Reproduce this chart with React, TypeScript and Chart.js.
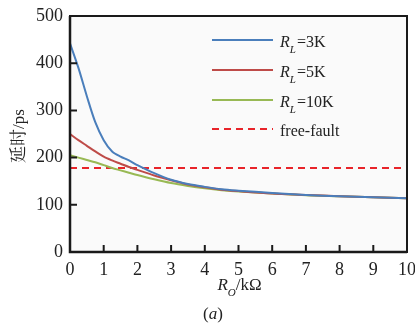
import React, { useEffect, useRef } from "react";
import { Chart, registerables } from "chart.js";

Chart.register(...registerables);

const xValues = [0, 0.25, 0.5, 0.75, 1, 1.25, 1.5, 1.75, 2, 2.5, 3, 3.5, 4, 4.5, 5, 6, 7, 8, 9, 10];
const rl3k = [442, 390, 330, 275, 237, 213, 202, 194, 184, 167, 153, 144, 138, 133, 130, 125, 121, 118, 116, 114];
const rl5k = [250, 237, 225, 213, 202, 194, 187, 180, 174, 162, 152, 143, 137, 132, 129, 124, 121, 118, 116, 114];
const rl10k = [205, 200, 195, 190, 184, 178, 173, 168, 163, 154, 146, 140, 135, 131, 128, 124, 120, 118, 116, 114];
const freeFaultValue = 178;
const freeFaultX = [0, 10];
const xTicks = [0, 1, 2, 3, 4, 5, 6, 7, 8, 9, 10];
const yTicks = [0, 100, 200, 300, 400, 500];

const legendItems = [
  { sub: "L", base: "R", rest: "=3K", color: "#4a7ebb", dash: [] as number[] },
  { sub: "L", base: "R", rest: "=5K", color: "#be4b48", dash: [] as number[] },
  { sub: "L", base: "R", rest: "=10K", color: "#98b954", dash: [] as number[] },
  { sub: "", base: "", rest: "free-fault", color: "#e8242a", dash: [7, 5] },
];

const SERIF = "'Liberation Serif', 'Times New Roman', serif";
const CJK = "'Liberation Serif', 'Noto Serif CJK SC', 'Noto Sans CJK SC', serif";

const pts = (ys: number[]) => xValues.map((x, i) => ({ x, y: ys[i] }));

const decorPlugin = {
  id: "decor",
  beforeDraw(chart: any) {
    const { ctx, chartArea: a } = chart;
    ctx.save();
    ctx.fillStyle = "#fafafa";
    ctx.fillRect(a.left, a.top, a.right - a.left, a.bottom - a.top);
    ctx.restore();
  },
  afterDraw(chart: any) {
    const { ctx, chartArea: a, scales } = chart;
    const xs = scales.x;
    const ys = scales.y;
    ctx.save();
    ctx.strokeStyle = "#1a1a1a";
    ctx.lineWidth = 2;
    ctx.strokeRect(a.left, a.top, a.right - a.left, a.bottom - a.top);
    ctx.lineWidth = 2.5;
    ctx.beginPath();
    ctx.moveTo(a.left, a.top);
    ctx.lineTo(a.left, a.bottom);
    ctx.lineTo(a.right, a.bottom);
    ctx.stroke();
    ctx.lineWidth = 2;
    ctx.beginPath();
    xTicks.forEach((t) => {
      const px = xs.getPixelForValue(t);
      ctx.moveTo(px, a.bottom);
      ctx.lineTo(px, a.bottom - 7);
    });
    yTicks.forEach((t) => {
      const py = ys.getPixelForValue(t);
      ctx.moveTo(a.left, py);
      ctx.lineTo(a.left + 7, py);
    });
    ctx.stroke();

    const lx0 = 212;
    const lx1 = 273;
    const tx = 280;
    const rowY = [40, 70, 100, 129];
    legendItems.forEach((it, i) => {
      const y = rowY[i];
      ctx.strokeStyle = it.color;
      ctx.lineWidth = 2;
      ctx.setLineDash(it.dash);
      ctx.beginPath();
      ctx.moveTo(lx0, y);
      ctx.lineTo(lx1, y);
      ctx.stroke();
      ctx.setLineDash([]);
      ctx.fillStyle = "#222";
      ctx.textBaseline = "alphabetic";
      ctx.textAlign = "left";
      let x = tx;
      const base = y + 7;
      if (it.base) {
        ctx.font = `italic 16px ${SERIF}`;
        ctx.fillText(it.base, x, base);
        x += ctx.measureText(it.base).width;
        ctx.font = `italic 11px ${SERIF}`;
        ctx.fillText(it.sub, x, base + 6);
        x += ctx.measureText(it.sub).width + 1;
      }
      ctx.font = `16px ${SERIF}`;
      ctx.fillText(it.rest, x, base);
    });

    ctx.fillStyle = "#222";
    const titleY = 290;
    const parts = [
      { t: "R", f: `italic 17px ${SERIF}`, dy: 0 },
      { t: "O", f: `italic 11px ${SERIF}`, dy: 6 },
      { t: "/kΩ", f: `17px ${SERIF}`, dy: 0 },
    ];
    let total = 0;
    parts.forEach((p) => {
      ctx.font = p.f;
      total += ctx.measureText(p.t).width;
    });
    let x = (a.left + a.right) / 2 - total / 2 + 1;
    parts.forEach((p) => {
      ctx.font = p.f;
      ctx.fillText(p.t, x, titleY + p.dy);
      x += ctx.measureText(p.t).width;
    });

    const cap = [
      { t: "(", f: `17px ${SERIF}` },
      { t: "a", f: `italic 17px ${SERIF}` },
      { t: ")", f: `17px ${SERIF}` },
    ];
    let cx = 203;
    cap.forEach((p) => {
      ctx.font = p.f;
      ctx.fillText(p.t, cx, 319);
      cx += ctx.measureText(p.t).width;
    });

    ctx.translate(20, (a.top + a.bottom) / 2 + 2);
    ctx.rotate(-Math.PI / 2);
    ctx.textAlign = "center";
    ctx.textBaseline = "middle";
    ctx.font = `17px ${CJK}`;
    ctx.fillText("延时/ps", 0, 0);
    ctx.restore();
  },
};

export default function App() {
  const ref = useRef<HTMLCanvasElement>(null);
  useEffect(() => {
    if (!ref.current) return;
    const chart = new Chart(ref.current, {
      type: "line",
      data: {
        datasets: [
          { label: "RL=3K", data: pts(rl3k), borderColor: "#4a7ebb", borderWidth: 2, pointRadius: 0, tension: 0.3 },
          { label: "RL=5K", data: pts(rl5k), borderColor: "#be4b48", borderWidth: 2, pointRadius: 0, tension: 0.3 },
          { label: "RL=10K", data: pts(rl10k), borderColor: "#98b954", borderWidth: 2, pointRadius: 0, tension: 0.3 },
          { label: "free-fault", data: freeFaultX.map((x) => ({ x, y: freeFaultValue })), borderColor: "#e8242a", borderWidth: 2, borderDash: [7, 5], pointRadius: 0 },
        ] as any,
      },
      options: {
        animation: false,
        responsive: true,
        maintainAspectRatio: false,
        layout: { padding: { left: 0, top: 16, right: 2, bottom: 0 } },
        plugins: { legend: { display: false }, tooltip: { enabled: false } },
        scales: {
          x: {
            type: "linear",
            min: 0,
            max: 10,
            afterFit: (s: any) => { s.height = 75; s.paddingRight = 8; },
            afterBuildTicks: (s: any) => { s.ticks = xTicks.map((v) => ({ value: v })); },
            grid: { display: false, drawTicks: false },
            border: { display: false },
            ticks: { color: "#222", font: { family: SERIF, size: 18 }, padding: 7, maxRotation: 0 },
          },
          y: {
            type: "linear",
            min: 0,
            max: 500,
            afterFit: (s: any) => { s.width = 70; s.paddingTop = 0; },
            afterBuildTicks: (s: any) => { s.ticks = yTicks.map((v) => ({ value: v })); },
            grid: { display: false, drawTicks: false },
            border: { display: false },
            ticks: { color: "#222", font: { family: SERIF, size: 18 }, padding: 7 },
          },
        },
      } as any,
      plugins: [decorPlugin],
    });
    return () => chart.destroy();
  }, []);
  return (
    <div style={{ position: "fixed", left: 0, top: 0, width: 415, height: 327, background: "#fff" }}>
      <canvas ref={ref} />
    </div>
  );
}
